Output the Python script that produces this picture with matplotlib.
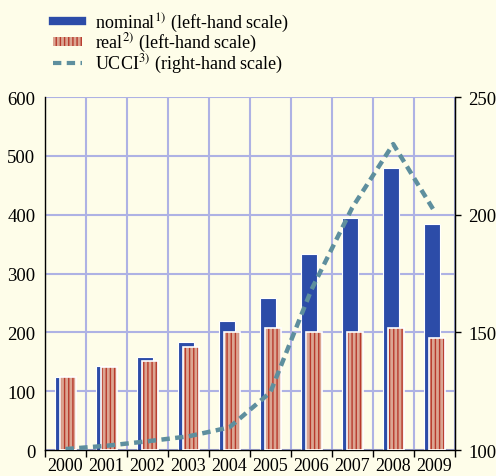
"""Nominal vs real values with UCCI index on a second scale."""

import matplotlib.pyplot as plt
from matplotlib.lines import Line2D
from matplotlib.patches import Rectangle
import numpy as np

plt.rcParams["font.family"] = ["Liberation Serif", "DejaVu Serif"]
plt.rcParams["mathtext.fontset"] = "stix"
plt.rcParams["hatch.linewidth"] = 1.0

years = ["2000", "2001", "2002", "2003", "2004", "2005", "2006", "2007", "2008", "2009"]
nominal = [124, 143, 158, 183, 219, 259, 333, 395, 480, 385]
real = [124, 141, 152, 175, 201, 207, 200, 200, 208, 190]
ucci = [100.4, 101.8, 103.7, 105.8, 109.6, 124.5, 168, 203, 230, 201.6]

BG = "#fefde9"
BLUE = "#2c4ca8"
SALMON = "#dba592"
STRIPE = "#b83a2c"
LINE = "#5e8f9e"
GRID = "#aeb2e4"
FS = 13.5

fig = plt.figure(figsize=(4.96, 4.77), dpi=100, facecolor=BG)
ax = fig.add_axes([0.0907, 0.0545, 0.826, 0.740])
ax.set_facecolor(BG)

x = np.arange(len(years)) + 0.5
w = 0.39
off = 0.062

ax.bar(x - off, nominal, width=w, color=BLUE, edgecolor="white", linewidth=0.8, zorder=2)
ax.bar(x + off, real, width=w, facecolor=SALMON, edgecolor=STRIPE, hatch="||||",
       linewidth=0, zorder=3)
ax.bar(x + off, real, width=w, fill=False, edgecolor="white", linewidth=1.2, zorder=4)

ax.set_xlim(0, len(years))
ax.set_ylim(0, 600)
ax.set_yticks(range(0, 601, 100))
ax.set_xticks(x)
ax.set_xticklabels(years)
ax.set_xticks(np.arange(len(years) + 1), minor=True)
ax.tick_params(axis="x", which="major", length=0, pad=5, labelsize=13)
ax.tick_params(axis="x", which="minor", length=5, width=1, direction="out", color="black")
ax.tick_params(axis="y", length=0, pad=7, labelsize=FS)

ax.set_axisbelow(True)
ax.grid(axis="y", color=GRID, linewidth=1.5)
ax.grid(axis="x", which="minor", color=GRID, linewidth=1.5)
for s in ["left", "bottom", "right"]:
    ax.spines[s].set_color("black")
    ax.spines[s].set_linewidth(1.0)
ax.spines["top"].set_visible(False)

ax2 = ax.twinx()
ax2.plot(x, ucci, color=LINE, linewidth=3.2, dashes=(1.9, 1.2), zorder=5)
ax2.set_ylim(100, 250)
ax2.set_yticks([100, 150, 200, 250])
ax2.tick_params(axis="y", length=4, width=1, direction="out", pad=6, labelsize=FS)
ax2.spines["top"].set_visible(False)
ax2.spines["left"].set_visible(False)
ax2.spines["bottom"].set_visible(False)
ax2.spines["right"].set_color("black")

handles = [
    Line2D([], [], color=BLUE, linewidth=6),
    Rectangle((0, 0), 1, 1, facecolor=SALMON, edgecolor=STRIPE, hatch="||||", linewidth=0),
    Line2D([], [], color=LINE, linewidth=3, dashes=(2.0, 1.3)),
]
labels = [
    r"nominal$^{1)}$ (left-hand scale)",
    r"real$^{2)}$ (left-hand scale)",
    r"UCCI$^{3)}$ (right-hand scale)",
]
fig.legend(handles, labels, loc="upper left", bbox_to_anchor=(0.075, 1.01),
           frameon=False, fontsize=13, handlelength=1.6, handleheight=0.4,
           handletextpad=0.7, labelspacing=-0.12)

fig.savefig("out.png", dpi=100, facecolor=BG)
